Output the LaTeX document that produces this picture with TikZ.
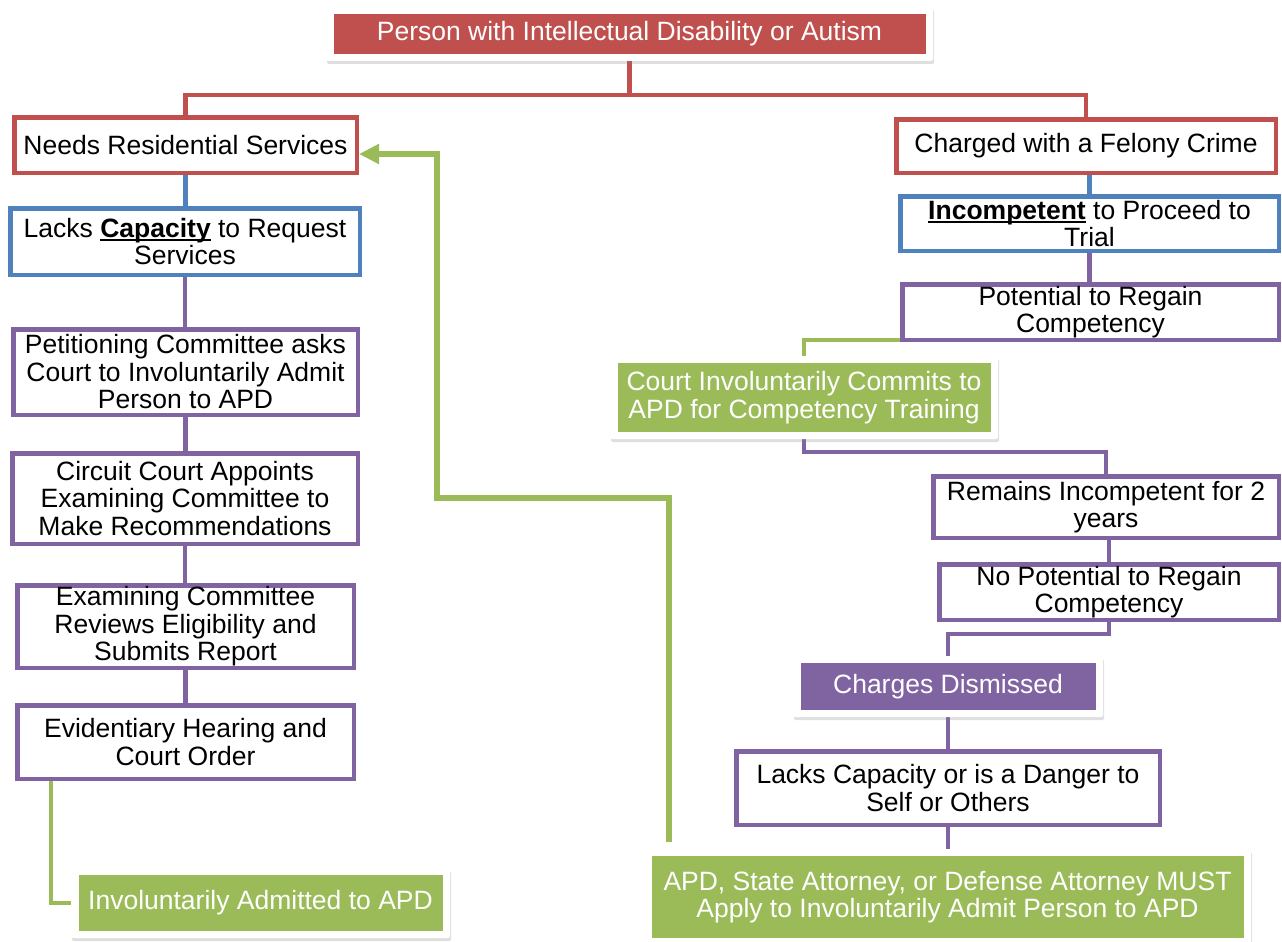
\documentclass[tikz,border=0pt]{standalone}
\usepackage{fontspec}
\setmainfont{Liberation Sans}
\usetikzlibrary{shadows,arrows.meta,backgrounds}
\definecolor{cred}{HTML}{C0504D}
\definecolor{cblue}{HTML}{4F81BD}
\definecolor{cpurple}{HTML}{8064A2}
\definecolor{cgreen}{HTML}{9BBB59}
\newcommand\ulb[1]{\setbox0\hbox{\bfseries #1}\rlap{\rule[-4pt]{\wd0}{2pt}}\box0\relax}
\begin{document}
\begin{tikzpicture}[x=1pt,y=-1pt,
  every node/.style={font=\fontsize{26.5}{27.5}\selectfont, align=center, inner sep=0pt, outer sep=0pt},
  box/.style={draw=#1, line width=4.5pt, fill=white, text=black},
  wh/.style 2 args={minimum width={#1pt-4.5pt}, minimum height={#2pt-4.5pt}},
  cwh/.style 2 args={minimum width={#1pt}, minimum height={#2pt}},
  card/.style={fill=white, rounded corners=2pt, text=white,
    drop shadow={opacity=0.25, shadow xshift=1pt, shadow yshift=-3pt},
    path picture={\fill[#1, sharp corners] ([shift={(7.5pt,7pt)}]path picture bounding box.south west) rectangle ([shift={(-7.5pt,-7pt)}]path picture bounding box.north east);}},
  conn/.style={line width=4.5pt}
]
\useasboundingbox (0,0) rectangle (1282,942);

% nodes
\node[card=cred, cwh={607}{54}] (top) at (629.5,34) {Person with Intellectual Disability or Autism};
\node[box=cred, wh={347}{60}] (needs) at (185.5,145) {Needs Residential Services};
\node[box=cblue, wh={354}{71}] (lacks) at (185,241.5) {Lacks \ulb{Capacity} to Request\\Services};
\node[box=cpurple, wh={349}{90}] (pet) at (185.5,372) {Petitioning Committee asks\\Court to Involuntarily Admit\\Person to APD};
\node[box=cpurple, wh={350}{95}] (circ) at (185,498.5) {Circuit Court Appoints\\Examining Committee to\\Make Recommendations};
\node[box=cpurple, wh={341}{87}] (exam) at (185.5,626.5) {Examining Committee\\Reviews Eligibility and\\Submits Report};
\node[box=cpurple, wh={341}{78}] (evid) at (185.5,742) {Evidentiary Hearing and\\Court Order};
\node[card=cgreen, cwh={379}{70}] (inv) at (260.5,903) {Involuntarily Admitted to APD};
\node[box=cred, wh={384}{58}] (charged) at (1086,146) {Charged with a Felony Crime};
\node[box=cblue, wh={383}{59}] (incomp) at (1089.5,223.5) {\ulb{Incompetent} to Proceed to\\Trial};
\node[box=cpurple, wh={381}{60}] (pot) at (1090.5,312) {Potential to Regain\\Competency};
\node[card=cgreen, cwh={388}{83}] (court) at (804,397.5) {Court Involuntarily Commits to\\APD for Competency Training};
\node[box=cpurple, wh={350}{66}] (remain) at (1106,507) {Remains Incompetent for 2\\years};
\node[box=cpurple, wh={344}{60}] (nopot) at (1109,592) {No Potential to Regain\\Competency};
\node[card=cpurple, cwh={310}{61}] (dism) at (948,686.5) {Charges Dismissed};
\node[box=cpurple, wh={428}{78}] (danger) at (948,788) {Lacks Capacity or is a Danger to\\Self or Others};
\node[card=cgreen, cwh={607}{96}] (apd) at (947.5,897) {APD, State Attorney, or Defense Attorney MUST\\Apply to Involuntarily Admit Person to APD};

\coordinate (g1) at (437,498);

% connectors
\begin{scope}[on background layer]
\fill[white] (0,0) rectangle (1282,942);
\draw[conn, cred] (top.south) -- ++(0,34) -| (needs.north);
\draw[conn, cred] (top.south) -- ++(0,34) -| (charged.north);
\draw[conn, cblue] (needs.south) -- (needs.south |- lacks.north);
\draw[conn, cpurple] (lacks.south) -- (lacks.south |- pet.north);
\draw[conn, cpurple] (pet.south) -- (pet.south |- circ.north);
\draw[conn, cpurple] (circ.south) -- (circ.south |- exam.north);
\draw[conn, cpurple] (exam.south) -- (exam.south |- evid.north);
\draw[conn, cgreen] ([xshift=33.75pt]evid.south west) |- (inv.west);
\draw[conn, cblue] (incomp.north |- charged.south) -- (incomp.north);
\draw[conn, cpurple] (incomp.south) -- (incomp.south |- pot.north);
\draw[conn, cgreen] (pot.south) -| (court.north);
\draw[conn, cpurple] (court.south) -- ++(0,13) -| (remain.north);
\draw[conn, cpurple] (remain.south -| nopot.north) -- (nopot.north);
\draw[conn, cpurple] (nopot.south) -- ++(0,14) -| (dism.north);
\draw[conn, cpurple] (dism.south) -- (danger.north);
\draw[conn, cpurple] (danger.south) -- (danger.south |- apd.north);
\draw[conn, cgreen, line width=6pt, -{Triangle[length=20pt,width=19pt]}]
  ([shift={(25pt,7pt)}]apd.north west) |- (g1) |- ([shift={(2.25pt,-9pt)}]needs.east);
\end{scope}
\end{tikzpicture}
\end{document}
